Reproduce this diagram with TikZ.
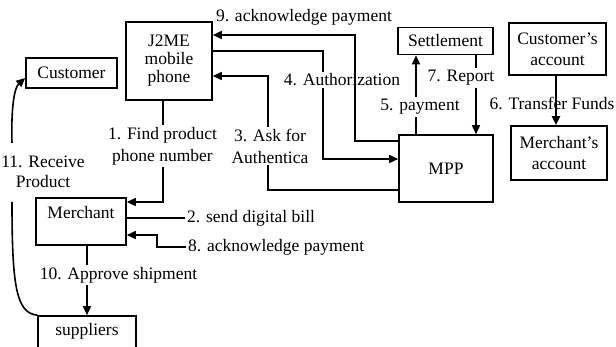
\documentclass[tikz,border=0pt]{standalone}
\usepackage{fontspec}
\setmainfont{Liberation Serif}
\usetikzlibrary{arrows.meta}
\begin{document}
\begin{tikzpicture}[x=1pt,y=-1pt,
  box/.style={draw, line width=1.6pt, inner sep=0pt, align=center, font=\fontsize{17.5}{21}\selectfont},
  lab/.style={inner sep=2pt, align=center, font=\fontsize{17.5}{22}\selectfont},
  line/.style={line width=1.6pt},
  arr/.style={line width=1.6pt, -{Triangle[length=9pt,width=8pt]}},
]
\useasboundingbox (0,0) rectangle (616,347);

% boxes
\node[box, minimum width=86pt, minimum height=78pt, font=\fontsize{17.5}{18}\selectfont] (j2me) at (169,61) {J2ME\\mobile\\phone};
\node[box, minimum width=91pt, minimum height=30pt] (customer) at (71.5,73) {Customer};
\node[box, minimum width=95pt, minimum height=27pt] (settle) at (445.5,41) {Settlement};
\node[box, minimum width=97pt, minimum height=52pt] (custacc) at (557.5,49) {Customer's\\account};
\node[box, minimum width=96pt, minimum height=54pt] (merchacc) at (559,153) {Merchant's\\account};
\node[box, minimum width=94pt, minimum height=67pt] (mpp) at (446,168.5) {MPP};
\node[box, text width=90pt, text height=21pt, text depth=26pt] (merchant) at (81,221.5) {Merchant};
\node[box, text width=98pt, text height=20pt, text depth=30pt] (supp) at (87,341) {suppliers};

% labels
\node[lab] (l9) at (304,17) {9. acknowledge payment};
\node[lab] (l4) at (342,80) {4. Authorization};
\node[lab] (l3) at (270,146) {3. Ask for\\Authentica};
\node[lab] (l1) at (162.5,146) {1. Find product\\phone number};
\node[lab, font=\fontsize{17.5}{20}\selectfont] (l11) at (43,172) {11. Receive\\Product};
\node[lab] (l10) at (118.5,275) {10. Approve shipment};
\node[lab, anchor=west] (l2) at (185,218) {2. send digital bill};
\node[lab, anchor=west] (l8) at (186,247) {8. acknowledge payment};
\node[lab] (l5) at (420,107) {5. payment};
\node[lab] (l7) at (461,78) {7. Report};
\node[lab] (l6) at (552,103) {6. Transfer Funds};

% helper coordinates
\coordinate (c9) at (355,35);
\coordinate (c4) at (323,51);
\coordinate (c4b) at (323,159);
\coordinate (c3t) at (268,76);
\coordinate (c3b) at (268,190);
\coordinate (c1) at (163,202);
\coordinate (c2) at (126,218);
\coordinate (c8) at (157,235);
\coordinate (c10) at (87,245);
\coordinate (c5) at (416,100);
\coordinate (c7) at (476,100);
\coordinate (c6) at (556,100);
\coordinate (c11t) at (12,143);
\coordinate (c11b) at (12,202);

% connectors
\draw[arr] ([yshift=-7pt]mpp.north west) -| (c9) -- (c9 -| j2me.east);
\draw[line] (c4 -| j2me.east) -- (c4) -- (c4 |- l4.north);
\draw[arr] (c4 |- l4.south) -- (c4b) -- (c4b -| mpp.west);
\draw[line] (c3b -| mpp.west) -- (c3b) -- (c3b |- l3.south);
\draw[arr] (c3b |- l3.north) -- (c3t) -- (c3t -| j2me.east);
\draw[line] (c1 |- j2me.south) -- (c1 |- l1.north);
\draw[arr] (c1 |- l1.south) -- (c1) -- (c1 -| merchant.east);
\draw[line] (c2 -| merchant.east) -- (l2.west);
\draw[arr] (l8.west) -| (c8) -- (c8 -| merchant.east);
\draw[line] (c10 |- merchant.south) -- (c10 |- l10.north);
\draw[arr] (c10 |- l10.south) -- (c10 |- supp.north);
\draw[line] (c5 |- mpp.north) -- (c5 |- l5.south);
\draw[arr] (c5 |- l5.north) -- (c5 |- settle.south);
\draw[line] (c7 |- settle.south) -- (c7 |- l7.north);
\draw[arr] (c7 |- l7.south) -- (c7 |- mpp.north);
\draw[arr, line width=2.4pt] (c6 |- custacc.south) -- (c6 |- merchacc.north);
\draw[line] (supp.north west) .. controls (16,313) and (12,285) .. (c11b);
\draw[arr] (c11t) .. controls (11,110) and (14,88) .. ([yshift=-5pt]customer.west);
\end{tikzpicture}
\end{document}
